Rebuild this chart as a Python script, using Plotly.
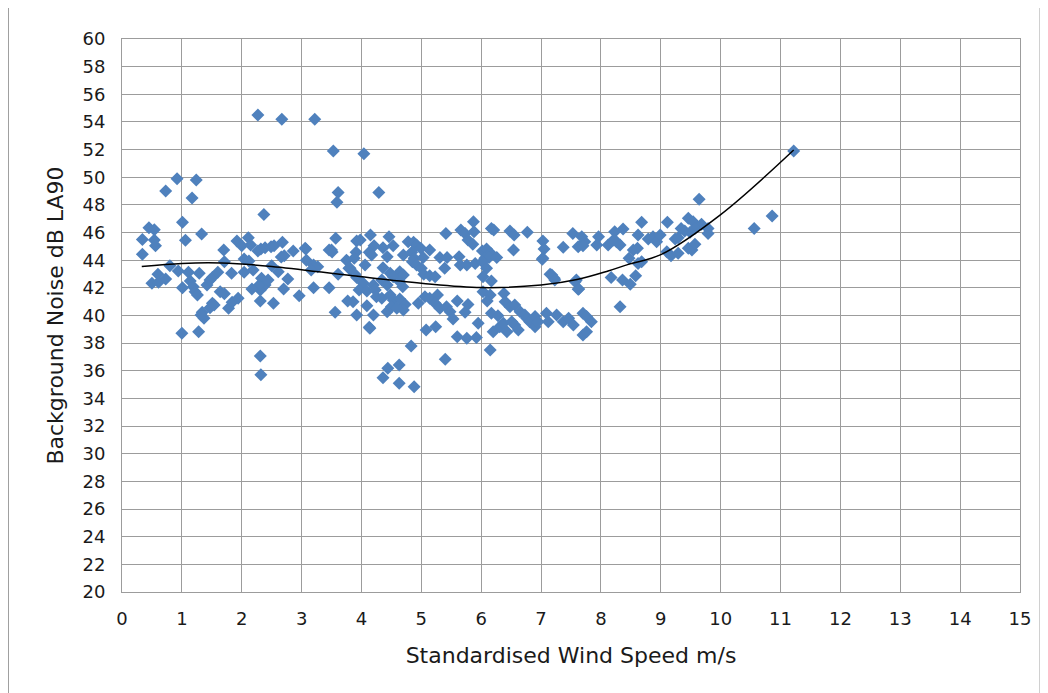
import plotly.graph_objects as go

# Scatter data: standardised wind speed (m/s) and background noise LA90 (dB)
wind_speed = [
    2.27, 2.67, 3.22, 3.53, 4.04, 3.61, 3.59, 4.29, 0.92, 1.24, 0.73, 1.17, 2.37, 9.64, 11.22, 10.86, 10.56,
    1.01, 0.45, 0.54, 0.34, 0.54, 0.56, 1.06, 1.33, 0.34, 0.80, 0.94, 0.60, 0.50, 0.61, 0.73, 1.01, 1.11, 1.14,
    1.19, 1.22, 1.26, 1.29, 1.42, 1.47, 1.51, 1.60, 1.64, 1.71, 1.51, 1.47, 1.54, 1.34, 1.37, 1.32, 1.00, 1.28,
    1.78, 1.84, 1.94, 1.70, 1.71, 1.83, 1.92, 2.00, 2.11, 2.15, 2.04, 2.12, 2.04, 2.19, 2.27, 2.32, 2.39, 2.49,
    2.54, 2.33, 2.39, 2.44, 2.31, 2.28, 2.31, 2.53, 2.17, 2.50, 2.61, 2.68, 2.86, 2.66, 2.71, 2.77, 2.70, 2.96,
    3.07, 3.08, 3.20, 3.27, 3.16, 3.20, 3.46, 3.46, 3.51, 3.57, 3.56, 3.77, 3.75, 3.79, 3.89, 3.61, 2.31, 2.32,
    3.06, 3.50,
    5.87, 5.41, 5.66, 5.73, 5.88, 5.78, 5.86, 6.17, 6.21, 6.48, 6.55, 6.77, 6.54, 7.03, 7.05, 7.03, 7.37, 7.53,
    4.15, 3.98, 3.92, 4.46, 4.21, 4.36, 4.53, 4.78, 4.87, 4.92, 4.99, 5.14, 3.91, 3.88, 4.13, 4.17, 4.43, 4.70,
    4.84, 4.88, 5.03, 5.31, 5.43, 5.63, 6.02, 6.09, 6.16, 6.06, 6.13, 6.26, 3.81, 4.06, 4.36, 4.48, 4.64, 4.70,
    4.85, 4.92, 5.00, 5.04, 5.14, 5.23, 5.39, 5.65, 5.76, 5.90, 6.02, 6.09, 6.03, 6.17, 7.15, 7.22, 3.92, 4.03,
    4.20, 4.34, 4.43, 4.53, 4.64, 4.69, 3.96, 4.09, 4.23, 4.25, 4.34, 4.48, 4.53, 4.64, 4.73, 4.70, 4.09, 4.20,
    3.92, 3.86, 4.14, 4.43, 4.50, 4.59, 4.95, 5.06, 5.14, 5.27, 5.23, 5.31, 5.42, 5.48, 5.08, 5.24, 5.53, 5.60,
    5.73, 5.78, 5.60, 5.76, 5.92, 5.95, 6.03, 6.15, 6.10, 6.17, 6.28, 6.38, 6.40, 6.48, 6.56, 6.65, 6.20, 6.31,
    6.37, 6.43, 6.51, 6.56, 6.62, 6.73, 6.76, 6.81, 6.90, 6.90, 6.95, 7.09, 7.12, 7.26, 7.37, 7.46, 7.54, 7.59,
    4.83, 4.44, 4.36, 4.63, 4.63, 4.88, 5.40, 4.13, 6.15, 7.02, 7.18, 7.23, 7.57, 7.62, 7.70, 7.76, 7.84, 7.70,
    7.76,
    8.68, 9.11, 9.46, 9.54, 9.68, 9.79, 9.79, 9.34, 9.40, 9.49, 9.57, 9.24, 9.29, 9.46, 9.52, 9.57, 9.10, 9.17,
    9.29, 8.79, 8.87, 8.93, 8.99, 8.62, 8.37, 8.23, 8.26, 8.12, 8.21, 8.32, 7.96, 7.93, 7.68, 7.73, 7.62, 7.70,
    8.54, 8.61, 8.47, 8.62, 8.68, 8.17, 8.36, 8.49, 8.58, 7.63, 8.32,
]
noise_la90 = [
    54.5, 54.2, 54.2, 51.9, 51.7, 48.9, 48.2, 48.9, 49.9, 49.8, 49.0, 48.5, 47.3, 48.4, 51.9, 47.2, 46.3,
    46.74, 46.35, 46.2, 45.5, 45.46, 45.05, 45.44, 45.9, 44.43, 43.6, 43.22, 42.98, 42.33, 42.4, 42.64, 42.01, 43.13, 42.5,
    42.08, 41.72, 41.48, 43.05, 42.2, 42.57, 42.74, 43.12, 41.72, 41.58, 40.88, 40.56, 40.76, 40.23, 39.8, 40.04, 38.71, 38.83,
    40.52, 40.95, 41.24, 44.74, 43.89, 43.05, 45.39, 45.05, 45.63, 45.1, 44.09, 43.94, 43.13, 43.29, 44.67, 44.81, 44.9, 44.98,
    45.05, 42.7, 42.2, 42.57, 41.85, 42.16, 41.05, 40.88, 41.92, 43.6, 43.17, 45.29, 44.67, 44.23, 44.33, 42.64, 41.92, 41.43,
    44.81, 44.0, 43.65, 43.53, 43.29, 42.01, 42.01, 44.74, 44.6, 45.58, 40.23, 41.05, 44.0, 43.41, 42.98, 42.98, 37.07, 35.72,
    44.86, 44.74,
    46.79, 45.94, 46.18, 45.94, 46.06, 45.46, 45.15, 46.3, 46.18, 46.11, 45.82, 46.02, 44.74, 45.39, 44.81, 44.14, 44.93, 45.94,
    45.82, 45.46, 45.39, 45.7, 45.05, 44.9, 45.05, 45.34, 45.29, 45.1, 44.86, 44.74, 44.57, 44.14, 44.57, 44.38, 44.25, 44.38,
    44.57, 44.14, 44.19, 44.19, 44.19, 44.25, 44.67, 44.81, 44.5, 44.14, 44.19, 44.19, 43.41, 43.65, 43.46, 43.05, 43.17, 42.93,
    43.89, 43.65, 43.41, 42.98, 42.88, 42.81, 43.41, 43.65, 43.65, 43.77, 43.89, 43.41, 42.81, 42.5, 42.98, 42.69, 42.74, 42.33,
    42.2, 42.57, 42.2, 42.81, 42.45, 42.08, 41.85, 41.77, 41.85, 41.36, 41.24, 41.48, 41.12, 41.19, 40.8, 40.4, 40.71, 40.04,
    40.04, 41.0, 39.07, 40.28, 40.64, 40.52, 40.88, 41.36, 41.24, 41.48, 40.88, 40.52, 40.64, 40.28, 38.96, 39.19, 39.75, 41.05,
    40.23, 40.8, 38.47, 38.35, 38.4, 39.44, 41.72, 41.48, 41.05, 40.16, 39.99, 41.6, 41.0, 40.64, 40.76, 40.28, 38.83, 39.19,
    39.44, 38.83, 39.55, 39.31, 38.95, 40.04, 39.8, 39.55, 39.19, 39.92, 39.55, 40.16, 39.55, 40.04, 39.55, 39.8, 39.31, 42.57,
    37.8, 36.18, 35.5, 36.42, 35.1, 34.85, 36.83, 39.15, 37.5, 44.07, 42.93, 42.57, 42.45, 41.9, 40.16, 39.92, 39.55, 38.59,
    38.83,
    46.74, 46.74, 47.03, 46.79, 46.6, 46.3, 45.94, 46.3, 46.11, 46.02, 46.3, 45.53, 45.63, 44.86, 44.74, 45.15, 44.62, 44.33,
    44.5, 45.53, 45.7, 45.34, 45.82, 45.82, 46.26, 46.06, 45.34, 45.1, 45.46, 45.1, 45.7, 45.1, 45.7, 45.34, 44.98, 45.05,
    44.74, 44.86, 44.14, 43.77, 43.89, 42.74, 42.57, 42.26, 42.88, 41.92, 40.64,
]

# Polynomial trendline
trend_x = [0.33, 1.0, 1.66, 2.5, 3.85, 5.0, 6.0, 7.0, 7.6, 8.12, 8.46, 9.0, 10.0, 11.22]
trend_y = [43.55, 43.77, 43.8, 43.55, 42.87, 42.33, 42.02, 42.2, 42.6, 43.22, 43.7, 44.4, 47.3, 51.97]

x_ticks = list(range(0, 16))
y_ticks = list(range(20, 61, 2))

fig = go.Figure()
fig.add_trace(go.Scatter(
    x=wind_speed, y=noise_la90, mode="markers",
    marker=dict(symbol="diamond", size=10, color="#4F81BD", line=dict(width=0)),
    showlegend=False,
))
fig.add_trace(go.Scatter(
    x=trend_x, y=trend_y, mode="lines",
    line=dict(color="#000000", width=1.5, shape="spline", smoothing=1.0),
    showlegend=False,
))

grid = "#9C9C9C"
font_family = "DejaVu Sans"
# page body has an 8px offset, so the figure is sized 1040x685
fig.update_layout(
    width=1040, height=685,
    margin=dict(l=114, r=28, t=31, b=101),
    paper_bgcolor="white", plot_bgcolor="white",
    font=dict(family=font_family, size=18, color="#1a1a1a"),
    xaxis=dict(
        range=[0, 15], tickvals=x_ticks, ticktext=[str(v) for v in x_ticks],
        showgrid=True, gridcolor=grid, gridwidth=1,
        showline=True, linecolor=grid, linewidth=1, mirror=True,
        zeroline=False, ticks="", tickfont=dict(size=18), ticklabelstandoff=10,
        title=dict(text="Standardised Wind Speed m/s", font=dict(size=22), standoff=20),
    ),
    yaxis=dict(
        range=[20, 60], tickvals=y_ticks, ticktext=[str(v) for v in y_ticks],
        showgrid=True, gridcolor=grid, gridwidth=1,
        showline=True, linecolor=grid, linewidth=1, mirror=True,
        zeroline=False, ticks="", tickfont=dict(size=18), ticklabelstandoff=12,
        title=dict(text="Background Noise dB LA90", font=dict(size=22), standoff=12),
    ),
    shapes=[dict(
        type="rect", xref="paper", yref="paper",
        x0=(0.5 - 114) / 898, x1=(1032 - 114) / 898,
        y0=(584 - 700) / 553, y1=(584 + 20) / 553,
        line=dict(color="#A0A0A0", width=1), fillcolor="rgba(0,0,0,0)", layer="below",
    )],
)

fig.write_html("out.html")
